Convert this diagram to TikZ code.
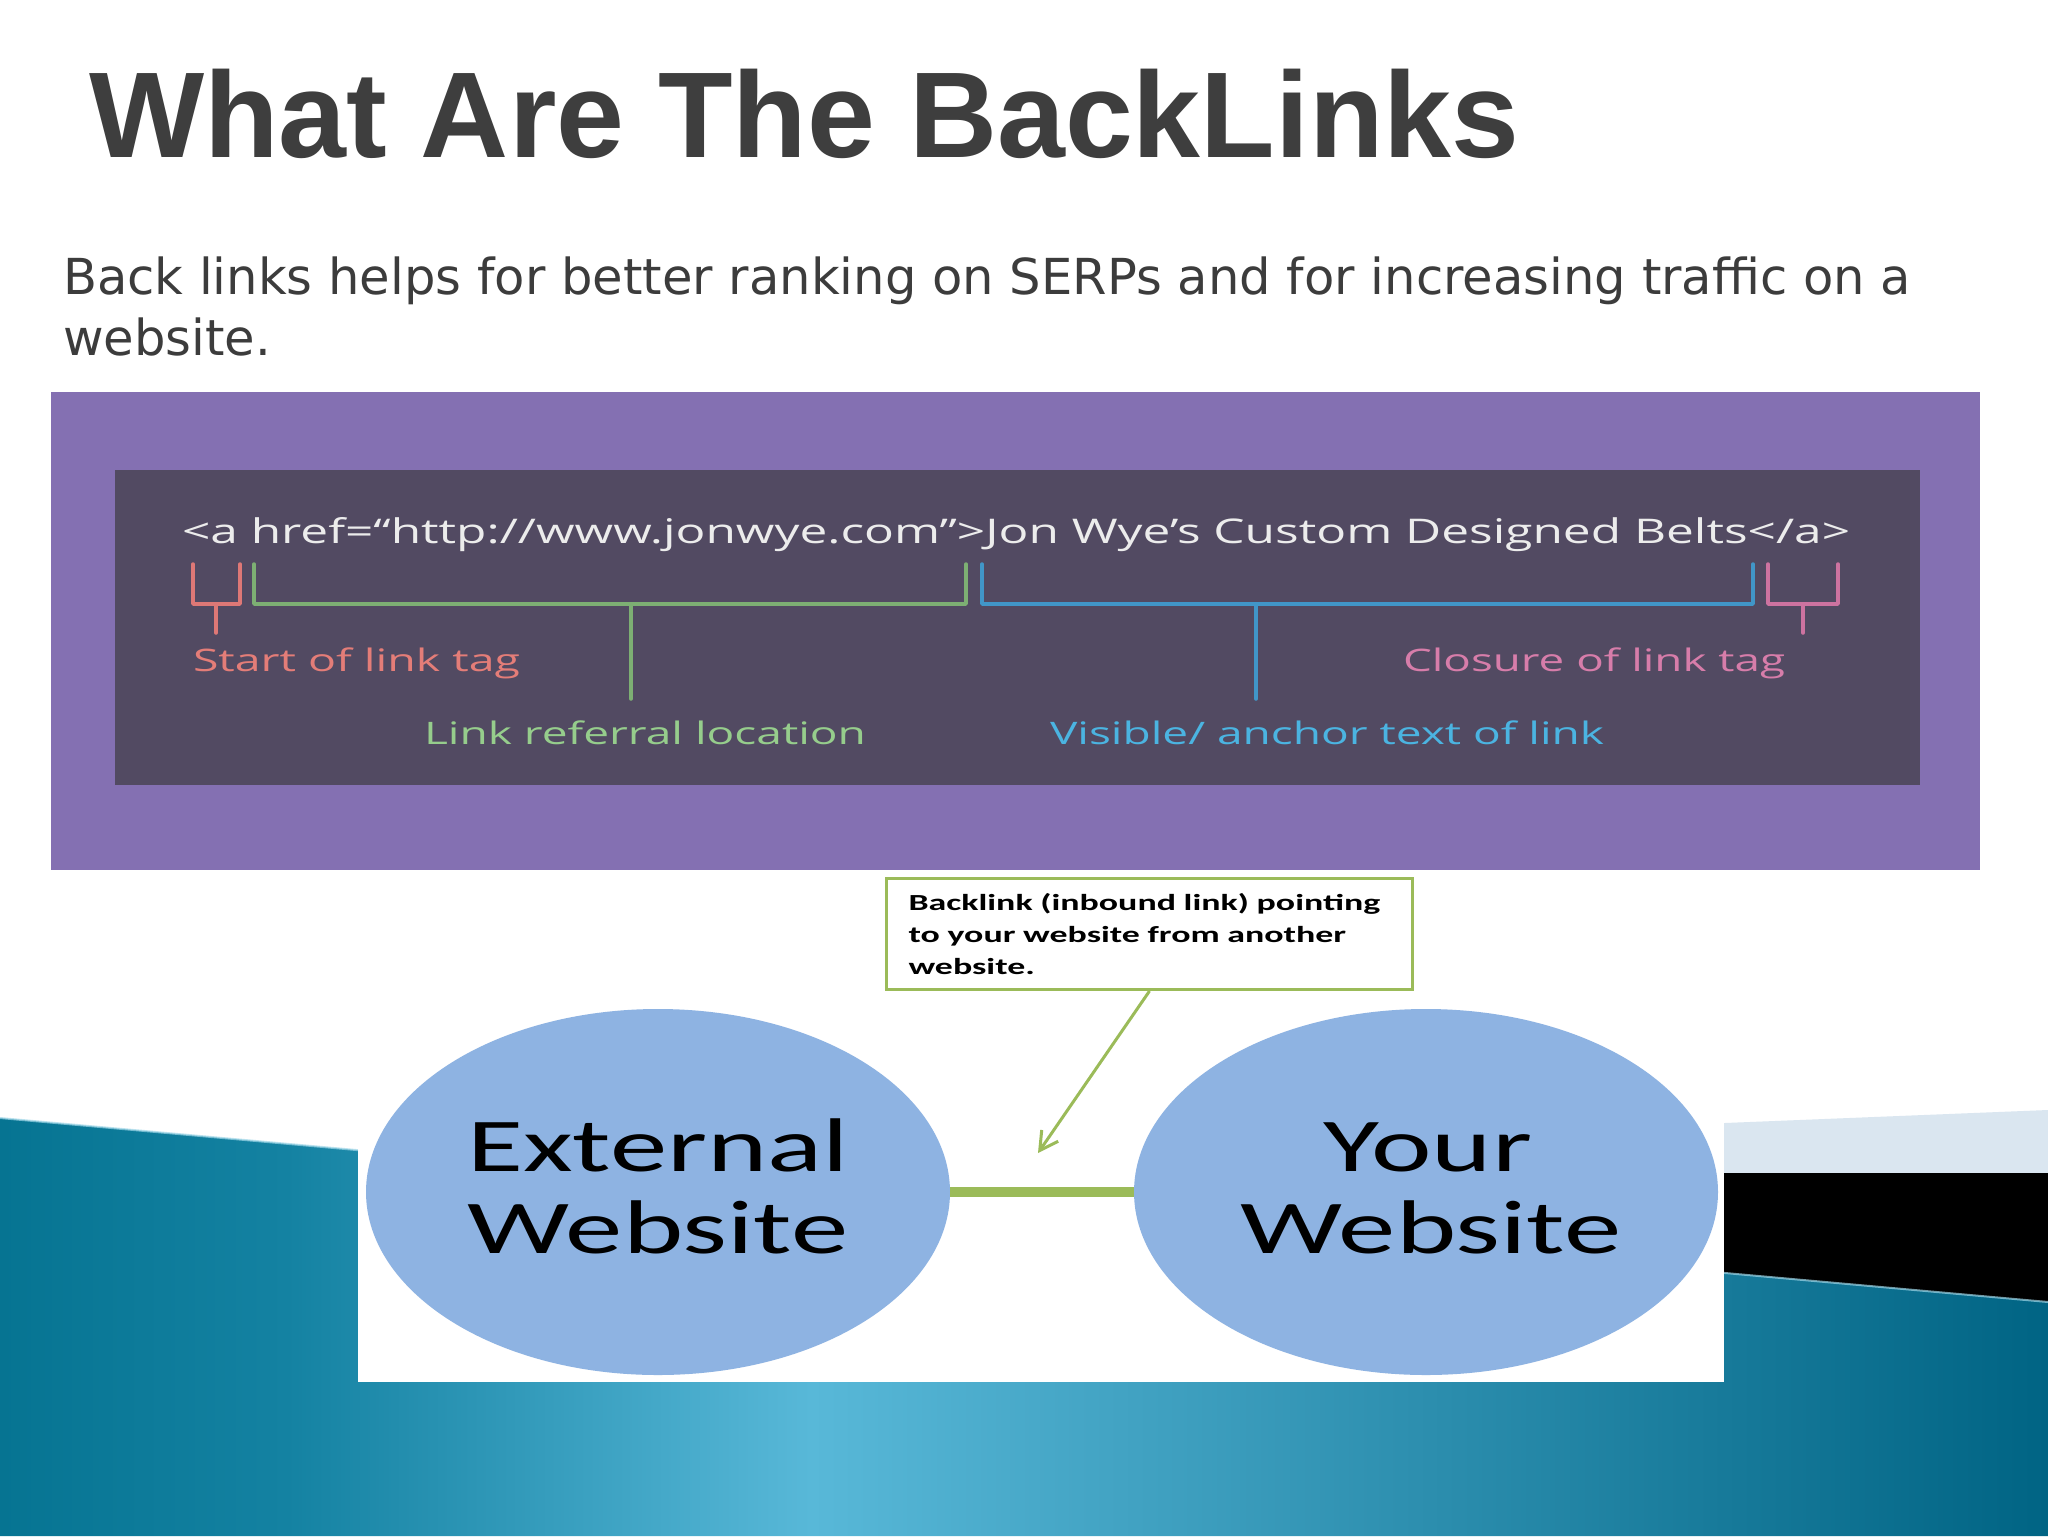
\documentclass[tikz,border=0pt]{standalone}
\usepackage{fontspec}
\usepackage{graphicx}
\usetikzlibrary{arrows.meta,shapes.geometric}
\setmainfont{Open Sans}
\newfontfamily\titlefont{Liberation Sans}
\newfontfamily\bodyfont{DejaVu Sans}
\newfontfamily\calw[FakeStretch=1.51]{Carlito}
\newfontfamily\calwb[FakeStretch=1.56]{Carlito}
\newlength\upx \setlength\upx{0.5pt}
\definecolor{titlegray}{RGB}{62,62,62}
\definecolor{bodygray}{RGB}{60,60,60}
\definecolor{purplebg}{RGB}{132,112,178}
\definecolor{codebg}{RGB}{82,74,98}
\definecolor{codetext}{RGB}{236,236,236}
\definecolor{salmon}{RGB}{228,125,120}
\definecolor{salmonl}{RGB}{222,120,118}
\definecolor{greenl}{RGB}{125,175,115}
\definecolor{greent}{RGB}{150,205,140}
\definecolor{bluel}{RGB}{65,150,200}
\definecolor{bluet}{RGB}{75,180,225}
\definecolor{pinkl}{RGB}{205,115,160}
\definecolor{pinkt}{RGB}{215,125,170}
\definecolor{ellfill}{RGB}{142,179,226}
\definecolor{olive}{RGB}{155,187,89}
\definecolor{tealA}{RGB}{6,116,146}
\definecolor{tealM}{RGB}{20,130,162}
\definecolor{tealL}{RGB}{88,184,216}
\definecolor{tealB}{RGB}{0,100,132}
\definecolor{lightband}{RGB}{218,230,240}
\definecolor{edgeline}{RGB}{160,215,232}
\pgfdeclarehorizontalshading{tealsh}{100bp}{color(0bp)=(tealA); color(25bp)=(tealA); color(32bp)=(tealM); color(44.8bp)=(tealL); color(75bp)=(tealB); color(100bp)=(tealB)}
\tikzset{
  txt/.style={inner sep=0pt, outer sep=0pt},
  brkt/.style={line width=3.5\upx, line cap=round, line join=round},
  ellnode/.style={ellipse, fill=ellfill, minimum width=584\upx, minimum height=366\upx, inner sep=0pt},
  elltext/.style={txt, anchor=base, font=\calw\fontsize{38}{41}\selectfont, text=black},
  labtext/.style={txt, anchor=base west, font=\fontsize{15.5}{18}\selectfont},
  bodytext/.style={txt, anchor=base west, font=\bodyfont\fontsize{24.8}{30.5}\selectfont, text=bodygray},
  callout/.style={draw=olive, line width=3\upx, fill=white, anchor=north west, minimum width=526\upx, minimum height=111\upx, text width=482\upx, inner xsep=22\upx, inner ysep=0pt, align=left, font=\calwb\bfseries\fontsize{11.5}{16}\selectfont},
  arrowc/.style={draw=olive, line width=3\upx, -{Straight Barb[length=9pt,width=10pt]}},
}
\begin{document}
\begin{tikzpicture}[x=0.5pt,y=-0.5pt]
\useasboundingbox (0,0) rectangle (2048,1536);
\fill[white] (0,0) rectangle (2048,1536);
% background bands
\fill[lightband] (1700,1124) -- (2048,1110) -- (2048,1173) -- (1700,1173) -- cycle;
\fill[black] (1700,1173) rectangle (2048,1320);
\shade[shading=tealsh] (0,1118) -- (2048,1302) -- (2048,1536) -- (0,1536) -- cycle;
\draw[edgeline, line width=2\upx, opacity=0.7] (0,1118) -- (2048,1302);
% title
\node[txt, anchor=base west, font=\titlefont\bfseries\fontsize{61}{70}\selectfont, text=titlegray] (title) at (89,157) {What Are The BackLinks};
% body text
\node[bodytext] (body1) at (63,294) {Back links helps for better ranking on SERPs and for increasing traffic on a};
\node[bodytext] (body2) at (63,355) {website.};
% purple code image
\fill[purplebg] (51,392) rectangle (1980,870);
\fill[codebg] (115,470) rectangle (1920,785);
\node[txt, anchor=base west, font=\fontsize{17}{20}\selectfont, text=codetext] (code) at (182,543) {\resizebox{1668\upx}{\height}{<a href=“http://www.jonwye.com”>Jon Wye’s Custom Designed Belts</a>}};
% brackets
\draw[brkt, salmonl] (193,564) -- (193,604) -- (240,604) -- (240,564);
\draw[brkt, salmonl] (216,604) -- (216,633);
\draw[brkt, greenl] (254,564) -- (254,604) -- (966,604) -- (966,564);
\draw[brkt, greenl] (631,604) -- (631,699);
\draw[brkt, bluel] (982,564) -- (982,604) -- (1753,604) -- (1753,564);
\draw[brkt, bluel] (1256,604) -- (1256,699);
\draw[brkt, pinkl] (1768,564) -- (1768,604) -- (1838,604) -- (1838,564);
\draw[brkt, pinkl] (1803,604) -- (1803,633);
% labels
\node[labtext, text=salmon] (lstart) at (193,671) {\resizebox{327\upx}{\height}{Start of link tag}};
\node[labtext, text=pinkt] (lclose) at (1403,671) {\resizebox{382\upx}{\height}{Closure of link tag}};
\node[labtext, text=greent] (lref) at (424,744) {\resizebox{442\upx}{\height}{Link referral location}};
\node[labtext, text=bluet] (lvis) at (1050,744) {\resizebox{554\upx}{\height}{Visible/ anchor text of link}};
% bottom image
\fill[white] (358,870) rectangle (1724,1382);
\node[ellnode] (ext) at (658,1192) {};
\node[ellnode] (your) at (1426,1192) {};
\node[elltext] (ext1) at (658,1171) {External};
\node[elltext] (ext2) at (658,1253) {Website};
\node[elltext] (your1) at (1428,1171) {Your};
\node[elltext] (your2) at (1431,1253) {Website};
\draw[olive, line width=10\upx] (ext.east) -- (your.west);
\node[callout] (note) at (885,877) {Backlink (inbound link) pointing\\to your website from another\\website.};
\coordinate (tip) at (1038,1153);
\draw[arrowc] (note.south) -- (tip);
\end{tikzpicture}
\end{document}
